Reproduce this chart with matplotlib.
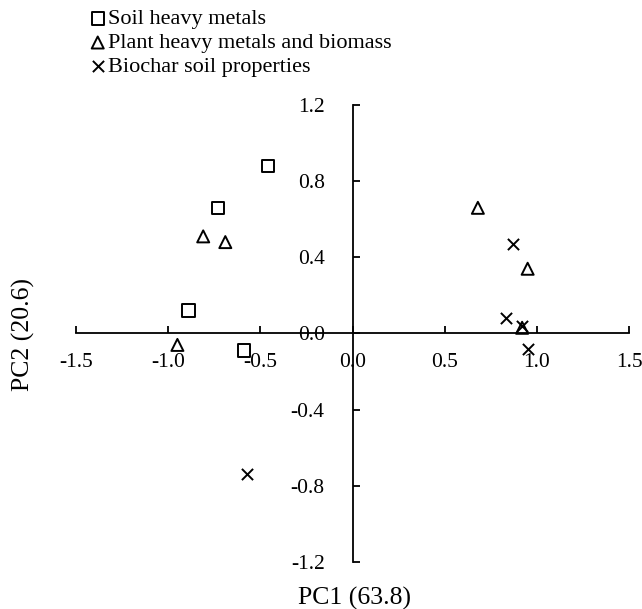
"""
PCA loading plot of soil, plant and biochar variables.
"""

import matplotlib
matplotlib.use("Agg")
import matplotlib.pyplot as plt

plt.rcParams["font.family"] = ["Liberation Serif", "DejaVu Serif"]

# PC1 / PC2 loadings
soil_pc1 = [-0.46, -0.73, -0.89, -0.59]
soil_pc2 = [0.88, 0.66, 0.12, -0.09]

plant_pc1 = [-0.81, -0.69, -0.95, 0.68, 0.95, 0.92]
plant_pc2 = [0.51, 0.48, -0.06, 0.66, 0.34, 0.03]

biochar_pc1 = [0.87, 0.83, 0.92, 0.95, -0.57]
biochar_pc2 = [0.47, 0.08, 0.04, -0.08, -0.74]

x_ticks = [-1.5, -1.0, -0.5, 0.0, 0.5, 1.0, 1.5]
y_ticks = [-1.2, -0.8, -0.4, 0.0, 0.4, 0.8, 1.2]


def create_loading_plot():
    """
    Create the loading plot.
    """

    fig = plt.figure(figsize=(6.42, 6.09), dpi=100)
    ax = fig.add_axes([0.1184, 0.0772, 0.8614, 0.7504])

    ax.scatter(soil_pc1, soil_pc2, marker="s", s=80,
               facecolors="none", edgecolors="black", linewidths=1.4,
               label="Soil heavy metals")
    ax.scatter(plant_pc1, plant_pc2, marker="^", s=75,
               facecolors="none", edgecolors="black", linewidths=1.4,
               label="Plant heavy metals and biomass")
    ax.scatter(biochar_pc1, biochar_pc2, marker="x", s=65,
               color="black", linewidths=1.4,
               label="Biochar soil properties")

    ax.set_xlim(-1.5, 1.5)
    ax.set_ylim(-1.2, 1.2)

    ax.spines["left"].set_position(("data", 0))
    ax.spines["bottom"].set_position(("data", 0))
    ax.spines["top"].set_visible(False)
    ax.spines["right"].set_visible(False)
    ax.spines["left"].set_linewidth(1.3)
    ax.spines["bottom"].set_linewidth(1.3)

    ax.set_xticks(x_ticks)
    ax.set_yticks(y_ticks)
    ax.set_xticklabels([f"{v:.1f}" for v in x_ticks])
    ax.set_yticklabels([f"{v:.1f}" for v in y_ticks])
    ax.tick_params(axis="both", direction="in", length=5, width=1.3,
                   labelsize=15.5)
    ax.tick_params(axis="x", pad=14)
    ax.tick_params(axis="y", pad=20)

    fig.text(0.552, 0.0066, "PC1 (63.8)", ha="center", va="baseline",
             fontsize=18.5)
    fig.text(0.036, 0.45, "PC2 (20.6)", ha="center", va="center",
             rotation=90, fontsize=18.5)

    fig.legend(loc="upper left", bbox_to_anchor=(0.128, 1.0),
               frameon=False, fontsize=16, scatterpoints=1,
               markerscale=1.0, handlelength=0.6, handletextpad=0.15,
               labelspacing=0.15, borderaxespad=0.0)

    fig.savefig("out.png", dpi=100)


if __name__ == "__main__":

    create_loading_plot()
